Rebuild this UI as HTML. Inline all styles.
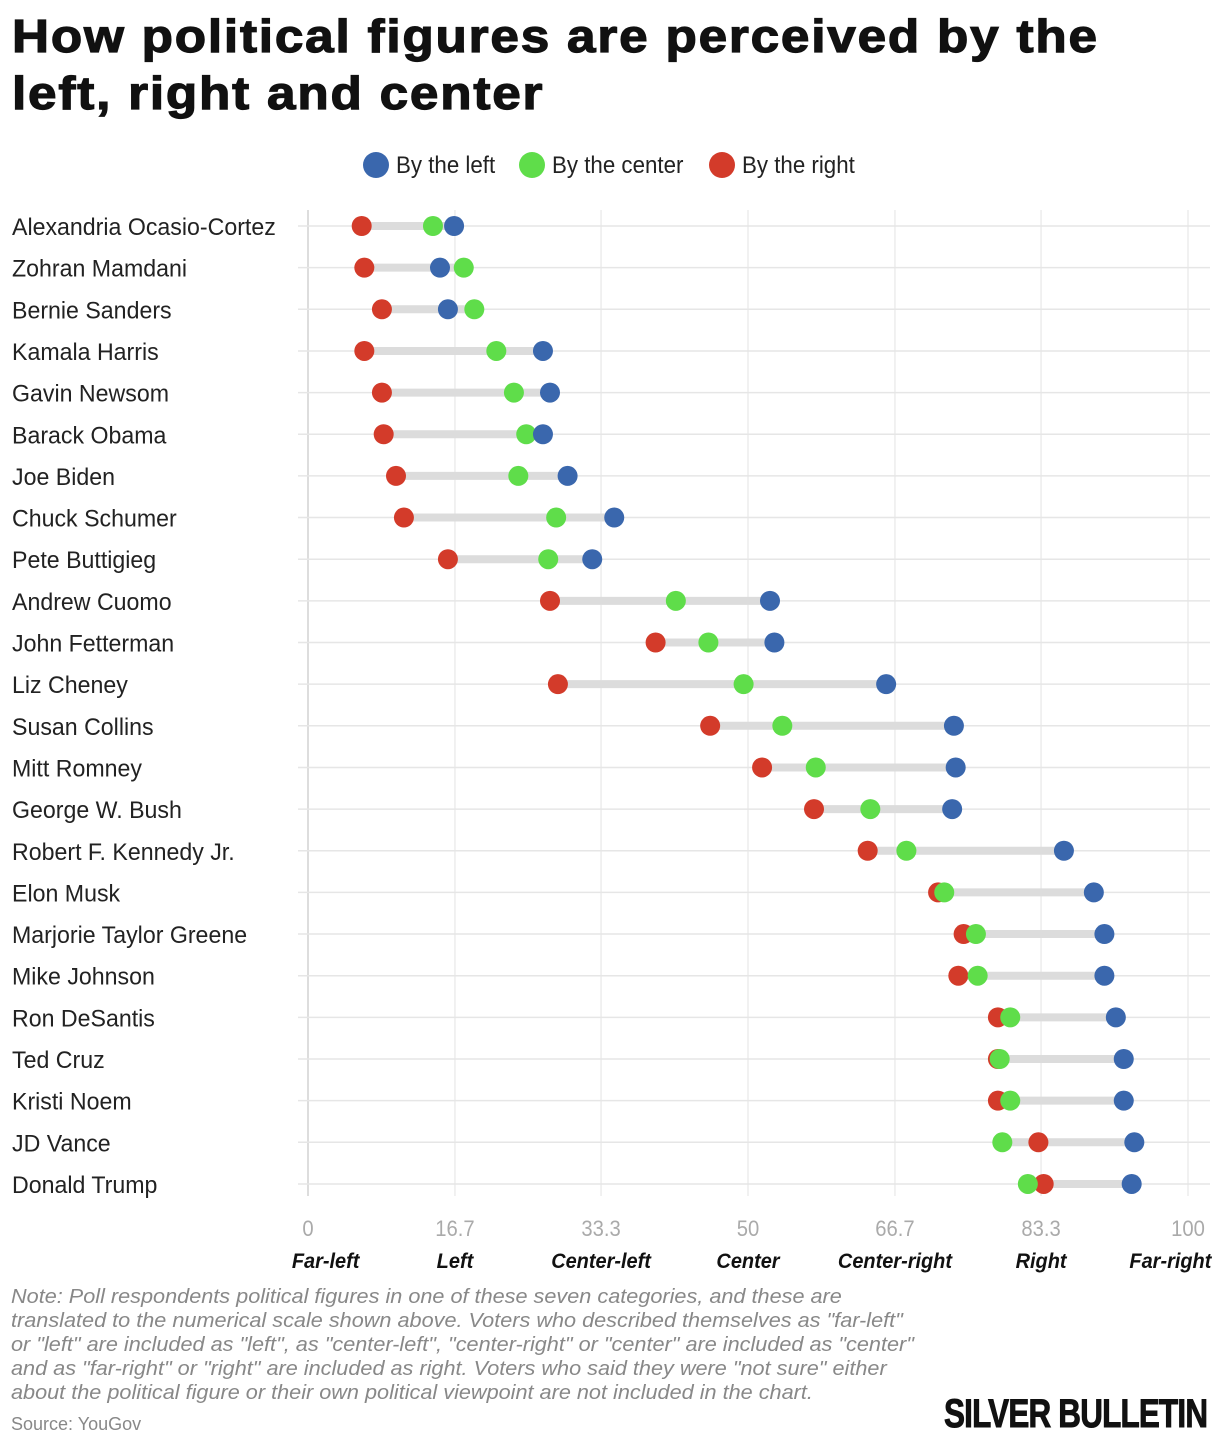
<!DOCTYPE html>
<html><head><meta charset="utf-8">
<style>
body{margin:0;background:#fff;width:1220px;height:1448px;overflow:hidden;font-family:"Liberation Sans",sans-serif;}
h1{position:absolute;left:12px;top:8px;margin:0;font-size:46px;line-height:57px;font-weight:900;color:#111;letter-spacing:1.6px;white-space:nowrap;-webkit-text-stroke:1.2px #111;transform:scaleX(1.115);transform-origin:left top}
svg{position:absolute;left:0;top:0}
.note{position:absolute;left:11px;top:1285px;font-size:20px;line-height:24px;color:#888;font-style:italic;white-space:nowrap;transform:scaleX(1.083);transform-origin:left top}
.src{position:absolute;left:11px;top:1414px;font-size:18px;color:#888}
.logo{position:absolute;left:944px;top:1392px;font-size:40px;font-weight:900;color:#111;letter-spacing:-1px;transform:scaleX(0.785);transform-origin:left top;white-space:nowrap;-webkit-text-stroke:1px #111}
</style></head><body>
<h1>How political figures are perceived by the<br>left, right and center</h1>
<svg id="chart" width="1220" height="1448"></svg>
<div class="note">Note: Poll respondents political figures in one of these seven categories, and these are<br>translated to the numerical scale shown above. Voters who described themselves as "far-left"<br>or "left" are included as "left", as "center-left", "center-right" or "center" are included as "center"<br>and as "far-right" or "right" are included as right. Voters who said they were "not sure" either<br>about the political figure or their own political viewpoint are not included in the chart.</div>
<div class="src">Source: YouGov</div>
<div class="logo">SILVER BULLETIN</div>
<script>
const names=["Alexandria Ocasio-Cortez","Zohran Mamdani","Bernie Sanders","Kamala Harris","Gavin Newsom","Barack Obama","Joe Biden","Chuck Schumer","Pete Buttigieg","Andrew Cuomo","John Fetterman","Liz Cheney","Susan Collins","Mitt Romney","George W. Bush","Robert F. Kennedy Jr.","Elon Musk","Marjorie Taylor Greene","Mike Johnson","Ron DeSantis","Ted Cruz","Kristi Noem","JD Vance","Donald Trump"];
const byLeft=[16.6,15.0,15.9,26.7,27.5,26.7,29.5,34.8,32.3,52.5,53.0,65.7,73.4,73.6,73.2,85.9,89.3,90.5,90.5,91.8,92.7,92.7,93.9,93.6];
const byCenter=[14.2,17.7,18.9,21.4,23.4,24.8,23.9,28.2,27.3,41.8,45.5,49.5,53.9,57.7,63.9,68.0,72.3,75.9,76.1,79.8,78.6,79.8,78.9,81.8];
const byRight=[6.1,6.4,8.4,6.4,8.4,8.6,10.0,10.9,15.9,27.5,39.5,28.4,45.7,51.6,57.5,63.6,71.6,74.5,73.9,78.4,78.4,78.4,83.0,83.6];
const tickVals=[0,16.7,33.3,50,66.7,83.3,100];
const tickLabels=["0","16.7","33.3","50","66.7","83.3","100"];
const catLabels=["Far-left","Left","Center-left","Center","Center-right","Right","Far-right"];
const catPos=[2,16.7,33.3,50,66.7,83.3,98];
const NS="http://www.w3.org/2000/svg";
const svg=document.getElementById('chart');
const x=v=>308+v*8.8;
const y=i=>226+i*41.65;
function mk(t,a,p){const e=document.createElementNS(NS,t);for(const k in a)e.setAttribute(k,a[k]);(p||svg).appendChild(e);return e;}
function txt(str,tx,ty,anchor,size,fill,extra,sx){
 const t=mk('text',Object.assign({x:0,y:0,'text-anchor':anchor,'font-size':size,fill:fill,transform:`translate(${tx},${ty}) scale(${sx},1)`},extra||{}));
 t.textContent=str;return t;
}
tickVals.forEach((v,i)=>{
 const l=mk('line',{x1:x(v),x2:x(v),y1:210,y2:1196,stroke:i==0?'#bbb':'#e3e3e3','stroke-width':1});
 
 
 const t=txt(tickLabels[i],x(v),1236,'middle',22,'#aaa',{},0.92);
 
 
});
catLabels.forEach((c,i)=>{
 const t=txt(c,x(catPos[i]),1268,'middle',21,'#111',{'font-weight':'bold','font-style':'italic'},0.95);
 
 
});
const leg=[["By the left","#3a67ad",376],["By the center","#5fdd4a",532],["By the right","#d33b2a",722]];
leg.forEach(L=>{
 const g=mk('g',{});
 
 
 mk('circle',{cx:L[2],cy:165,r:13,fill:L[1]},g);
 const t=txt(L[0],L[2]+20,173,'start',24,'#222',{},0.93);
 g.appendChild(t);
});
const colors={l:"#3a67ad",c:"#5fdd4a",r:"#d33b2a"};
names.forEach((n,i)=>{
 const yy=y(i);
 const gl=mk('line',{x1:298,x2:1210,y1:yy,y2:yy,stroke:'#e6e6e6','stroke-width':1.5});
 
 
 const t=txt(n,12,yy+9,'start',24,'#222',{},0.965);
 
 
 const lo=Math.min(byLeft[i],byCenter[i],byRight[i]),hi=Math.max(byLeft[i],byCenter[i],byRight[i]);
 const rg=mk('line',{x1:x(lo),x2:x(hi),y1:yy,y2:yy,stroke:'#dcdcdc','stroke-width':8});
 
 
 const a=mk('circle',{cx:x(byRight[i]),cy:yy,r:10,fill:colors.r});
 
 
 const b=mk('circle',{cx:x(byCenter[i]),cy:yy,r:10,fill:colors.c});
 
 
 const c=mk('circle',{cx:x(byLeft[i]),cy:yy,r:10,fill:colors.l});
 
 
});
</script>
</body></html>
